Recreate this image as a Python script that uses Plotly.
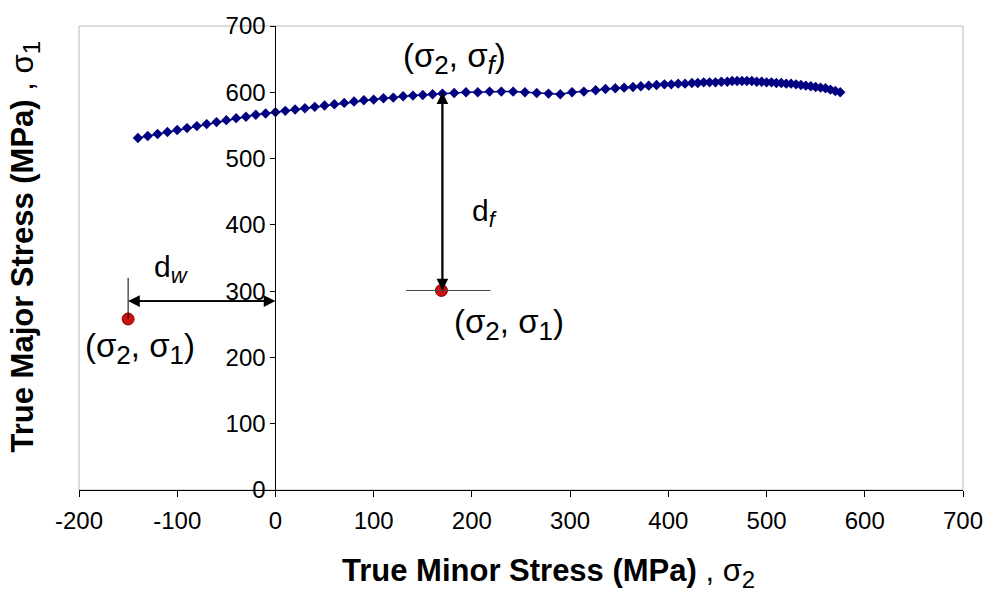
import plotly.graph_objects as go

# Curve data (sigma2, sigma1)
sigma2 = [-140, -130, -120, -110, -100, -90, -80, -70, -60, -50, -40, -30, -20, -10,
          0, 10, 20, 30, 40, 50, 60, 70, 80, 90, 100, 110, 120, 130, 140, 150, 160, 170,
          182, 194, 206, 218, 230, 242, 254, 266, 278, 290, 302, 314, 326, 336, 346,
          355, 364, 372, 380, 388, 396, 403, 410, 417, 424, 430, 436, 442, 448, 454,
          460, 465, 470, 475, 480, 485, 490, 495, 500, 505, 510, 515, 520, 525, 530,
          535, 540, 545, 550, 555, 560, 565, 570, 575]
sigma1 = [531, 534, 537, 540, 543, 546, 549, 552, 555, 558, 561, 563, 566, 568,
          570, 572, 574, 576, 578, 580, 582, 584, 586, 588, 589, 591, 592, 594, 595, 596, 597, 598,
          599, 600, 600, 601, 601, 601, 600, 599, 598, 597, 600, 601, 603, 605, 606,
          607, 608, 609, 610, 611, 612, 612, 613, 613, 614, 614, 615, 615, 615, 616,
          616, 617, 617, 617, 617, 617, 616, 616, 615, 615, 614, 614, 613, 613, 612,
          611, 610, 609, 608, 607, 606, 604, 602, 600]

# Two test points
pt_x = [-150, 169]
pt_y = [258, 301]

# Annotation anchors
fail_point = [170, 600]
arrow_w_y = 285

x_ticks = [-200, -100, 0, 100, 200, 300, 400, 500, 600, 700]
x_ticktext = ["-200", "-100", "0", "100", "200", "300", "400", "500", "600", "700"]
y_ticks = [0, 100, 200, 300, 400, 500, 600, 700]

FONT = "Liberation Sans, Arial, sans-serif"

def sub(s, italic=False, size=26):
    inner = f"<i>{s}</i>" if italic else s
    return f"<sub><span style='font-size:{size}px'>{inner}</span></sub>"

fig = go.Figure()
fig.add_trace(go.Scatter(x=sigma2, y=sigma1, mode="lines+markers",
                         line=dict(color="#000080", width=1.5),
                         marker=dict(symbol="diamond", size=8, color="#000080"),
                         showlegend=False, hoverinfo="skip"))
fig.add_trace(go.Scatter(x=pt_x, y=pt_y, mode="markers",
                         marker=dict(size=12, color="#cc1010", line=dict(color="#8a0000", width=1)),
                         showlegend=False))

shapes = [
    dict(type="rect", xref="paper", yref="paper", x0=0, x1=1, y0=0, y1=1,
         line=dict(color="#b8b8b8", width=1), layer="below"),
    dict(type="line", x0=pt_x[0], x1=pt_x[0], y0=pt_y[0], y1=320, line=dict(color="black", width=1)),
    dict(type="line", x0=133, x1=219, y0=pt_y[1], y1=pt_y[1], line=dict(color="#444", width=1)),
]

annotations = []
def double_arrow(x0, y0, x1, y1):
    for (ax, ay, hx, hy) in [(x0, y0, x1, y1), (x1, y1, x0, y0)]:
        annotations.append(dict(x=hx, y=hy, ax=ax, ay=ay, xref="x", yref="y", axref="x", ayref="y",
                                showarrow=True, arrowhead=2, arrowsize=1.3, arrowwidth=1.8,
                                arrowcolor="black", text=""))

double_arrow(pt_x[0], arrow_w_y, 0, arrow_w_y)
double_arrow(fail_point[0], fail_point[1], fail_point[0], pt_y[1])

txt = dict(font=dict(family=FONT, size=33, color="black"), showarrow=False, xref="x", yref="y",
           xanchor="center", yanchor="middle")
dtxt = dict(txt, font=dict(family=FONT, size=30, color="black"))
annotations += [
    dict(x=-106, y=333, text="d" + sub("w", True, 22), **dtxt),
    dict(x=-138, y=213, text="(σ" + sub("2") + ", σ" + sub("1") + ")", **txt),
    dict(x=213, y=418, text="d" + sub("f", True, 22), **dtxt),
    dict(x=238, y=250, text="(σ" + sub("2") + ", σ" + sub("f", True) + ")" if False else "(σ" + sub("2") + ", σ" + sub("1") + ")", **txt),
    dict(x=182, y=651, text="(σ" + sub("2") + ", σ" + sub("f", True) + ")", **txt),
    dict(xref="paper", yref="paper", x=(551 - 79) / 889, y=(490 - 574) / 472,
         xanchor="center", yanchor="middle", showarrow=False,
         text="<b>True Minor Stress (MPa)</b> , σ" + sub("2", size=24),
         font=dict(family=FONT, size=31, color="black")),
    dict(xref="paper", yref="paper", x=(25 - 79) / 889, y=(490 - 242) / 472,
         xanchor="center", yanchor="middle", showarrow=False, textangle=-90,
         text="<b>True Major Stress (MPa)</b> , σ" + sub("1", size=24),
         font=dict(family=FONT, size=31, color="black")),
]

fig.update_layout(
    width=995, height=597,
    margin=dict(l=79, r=27, t=18, b=107),
    paper_bgcolor="white", plot_bgcolor="white",
    font=dict(family=FONT, size=24, color="black"),
    shapes=shapes, annotations=annotations,
    xaxis=dict(range=[-200, 700], tickvals=x_ticks, ticktext=x_ticktext, showgrid=False,
               zeroline=False, showline=True, linecolor="black", linewidth=1, ticks="outside",
               ticklen=6, tickcolor="black", ticklabelstandoff=3),
    yaxis=dict(range=[0, 700], tickvals=y_ticks, showgrid=False, zeroline=False,
               showline=True, linecolor="black", linewidth=1, ticks="outside", ticklen=5,
               tickcolor="black", anchor="free", position=200/900),
)

fig.write_html("out.html")
